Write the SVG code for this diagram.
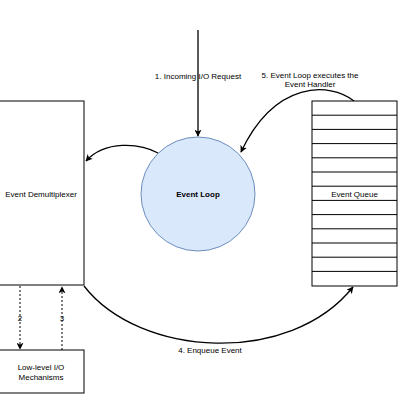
<svg xmlns="http://www.w3.org/2000/svg" width="410" height="410" viewBox="0 0 410 410">
<style>
text{font-family:"Liberation Sans",Arial,sans-serif;font-size:8px;fill:#000;text-anchor:middle}
.box{fill:#fff;stroke:#000;stroke-width:1}
.row{stroke:#000;stroke-width:1;fill:none}
.edge{fill:none;stroke:#000;stroke-width:1.3}
.dash{fill:none;stroke:#000;stroke-width:1;stroke-dasharray:2,2}
</style>
<defs>
<marker id="ah" viewBox="0 0 10 10" refX="9" refY="5" markerWidth="7" markerHeight="7" markerUnits="userSpaceOnUse" orient="auto">
<path d="M0,0 L10,5 L0,10 L2.5,5 Z" fill="#000"/>
</marker>
</defs>
<rect width="410" height="410" fill="#fff"/>
<g id="demux">
<rect class="box" x="-2" y="101" width="86" height="184"/>
<text x="41" y="197">Event Demultiplexer</text>
</g>
<g id="lowlevel">
<rect class="box" x="-2" y="350" width="86" height="43"/>
<text x="41" y="370">Low-level I/O</text>
<text x="41" y="380">Mechanisms</text>
</g>
<g id="loop">
<circle cx="198" cy="194" r="57" fill="#dae8fc" stroke="#6c8ebf" stroke-width="1"/>
<text x="198" y="197" font-weight="bold">Event Loop</text>
</g>
<g id="queue">
<rect class="box" x="312" y="101" width="85" height="185"/>
<path class="row" d="M312,115.2H397M312,129.4H397M312,143.6H397M312,157.8H397M312,172H397M312,186.2H397M312,200.4H397M312,214.6H397M312,228.8H397M312,243H397M312,257.2H397M312,271.4H397"/>
<text x="354.5" y="196.5">Event Queue</text>
</g>
<g id="connectors">
<path class="edge" d="M198,30 V136" marker-end="url(#ah)"/>
<path class="edge" d="M158,153 C140,143 105,140 86,161" marker-end="url(#ah)"/>
<path class="edge" d="M354,101 C330,82 275,80 241,152" marker-end="url(#ah)"/>
<path class="edge" d="M84,286 C140,358 290,366 353,287" marker-end="url(#ah)"/>
<path class="dash" d="M20,286 V349" marker-end="url(#ah)"/>
<path class="dash" d="M62,350 V287" marker-end="url(#ah)"/>
<text x="198" y="79">1. Incoming I/O Request</text>
<text x="310" y="78" font-size="7">5. Event Loop executes the</text>
<text x="310" y="87" font-size="7">Event Handler</text>
<text x="210" y="353" font-size="7">4. Enqueue Event</text>
<text x="20" y="321" font-size="7">2</text>
<text x="62" y="321" font-size="7">3</text>
</g>
</svg>
